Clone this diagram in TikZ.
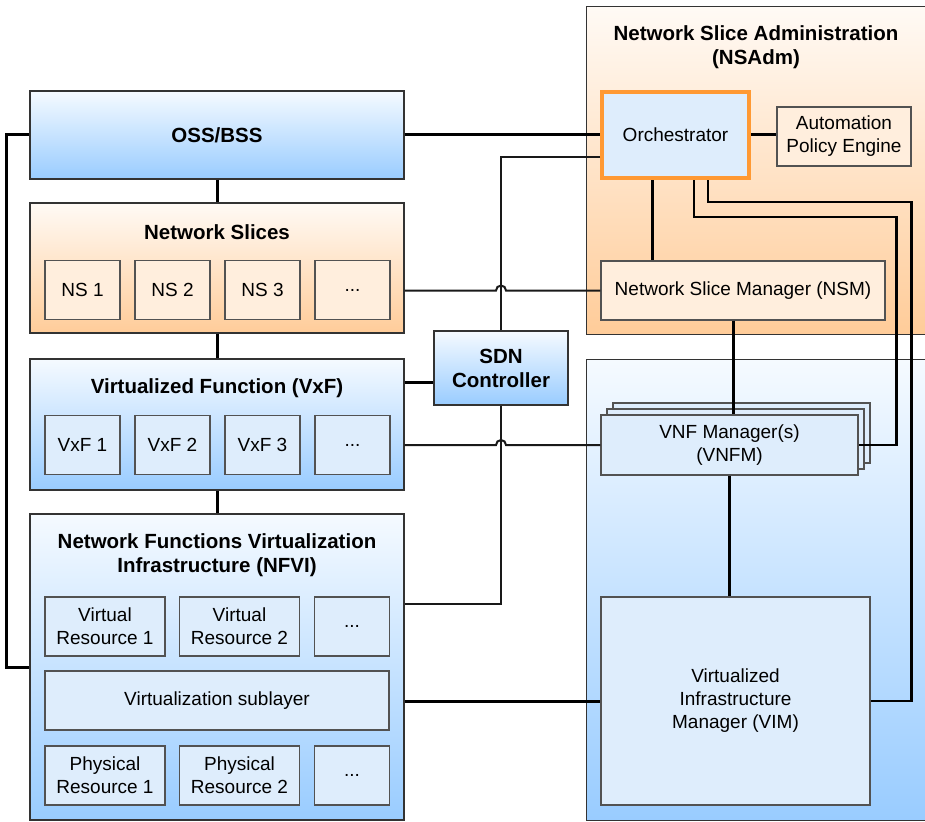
\documentclass[tikz,border=0pt]{standalone}
\usepackage{fontspec}
\setmainfont{Liberation Sans}

\definecolor{bluetop}{HTML}{F5FAFF}
\definecolor{bluebot}{HTML}{99CCFF}
\definecolor{orgtop}{HTML}{FFFAF5}
\definecolor{orgbot}{HTML}{FFCC99}
\definecolor{boxblue}{HTML}{DEEDFC}
\definecolor{boxorg}{HTML}{FFEEDD}
\definecolor{orchline}{HTML}{FF9933}
\definecolor{edge}{HTML}{333333}
\newcommand{\moredots}{...}

\begin{document}
\begin{tikzpicture}[x=1pt,y=1pt,
  every node/.style={font=\fontsize{19}{23}\selectfont,align=center,inner sep=0pt},
  layerbox/.style={draw=edge,line width=1.4pt,top color=bluetop,bottom color=bluebot,minimum width=374},
  slicebox/.style={layerbox,top color=orgtop,bottom color=orgbot},
  itembox/.style={draw=edge!85,line width=1.2pt,fill=boxblue,minimum height=59},
  sliceitem/.style={itembox,fill=boxorg},
  heading/.style={font=\fontsize{20.5}{24}\selectfont\bfseries},
  bigwire/.style={line width=3pt},
  midwire/.style={line width=2.5pt},
  wire/.style={line width=2pt,draw=black!90}]

        \useasboundingbox (0,0) rectangle (925,-821);
        \clip (0,0) rectangle (925,-821);

        % right hand areas
        \node[slicebox,anchor=north west,minimum width=350,minimum height=328] (nsadm) at (586,-6) {};
        \node[heading] (nsadmtitle) at (756,-47) {Network Slice Administration\\(NSAdm)};
        \node[layerbox,anchor=north west,minimum width=350,minimum height=461] (vnfarea) at (586,-359) {};

        % left hand layers
        \node[layerbox,minimum height=88] (oss) at (217,-135) {};
        \node[heading] (osstitle) at (217,-135) {OSS/BSS};

        \node[slicebox,minimum height=130] (slices) at (217,-268) {};
        \node[heading] (slicestitle) at (217,-232) {Network Slices};
        \foreach \i/\x/\t in {1/82.5/NS 1,2/172.5/NS 2,3/262.5/NS 3,4/352.5/\moredots}
            \node[sliceitem,minimum width=75] (ns\i) at (\x,-290) {\t};

        \node[layerbox,minimum height=131] (vxf) at (217,-424.5) {};
        \node[heading] (vxftitle) at (217,-388) {Virtualized Function (VxF)};
        \foreach \i/\x/\t in {1/82.5/VxF 1,2/172.5/VxF 2,3/262.5/VxF 3,4/352.5/\moredots}
            \node[itembox,minimum width=75] (vxf\i) at (\x,-445) {\t};

        \node[layerbox,minimum height=306] (nfvi) at (217,-667) {};
        \node[heading] (nfvititle) at (217,-555) {Network Functions Virtualization\\Infrastructure (NFVI)};
        \node[itembox,minimum width=120] (vr1) at (105,-626.5) {Virtual\\Resource 1};
        \node[itembox,minimum width=120] (vr2) at (239.5,-626.5) {Virtual\\Resource 2};
        \node[itembox,minimum width=75] (vr3) at (352,-626.5) {\moredots};
        \node[itembox,minimum width=344] (vsub) at (217,-700.5) {Virtualization sublayer};
        \node[itembox,minimum width=120] (pr1) at (105,-775.5) {Physical\\Resource 1};
        \node[itembox,minimum width=120] (pr2) at (239.5,-775.5) {Physical\\Resource 2};
        \node[itembox,minimum width=75] (pr3) at (352,-775.5) {\moredots};

        % controller
        \node[layerbox,minimum width=134,minimum height=74,font=\fontsize{20.5}{24}\selectfont\bfseries] (sdn) at (501,-368) {SDN\\Controller};

        % administration
        \node[itembox,draw=orchline,line width=4pt,minimum width=147,minimum height=86] (orch) at (675.5,-135) {Orchestrator};
        \node[sliceitem,minimum width=134] (ape) at (844,-136.5) {Automation\\Policy Engine};
        \node[sliceitem,minimum width=284] (nsm) at (743,-290.5) {Network Slice Manager (NSM)};

        % managers
        \node[itembox,minimum width=257,minimum height=60] (vnfmb) at (741.5,-433) {};
        \node[itembox,minimum width=257,minimum height=60] (vnfma) at (735.5,-439) {};
        \node[itembox,minimum width=257,minimum height=60] (vnfm) at (729.5,-445) {VNF Manager(s)\\(VNFM)};
        \node[itembox,minimum width=269,minimum height=208] (vim) at (735.5,-701) {Virtualized\\Infrastructure\\Manager (VIM)};

        \coordinate (sdnin) at ([yshift=-14]sdn.west);
        \coordinate (sdnout) at ([yshift=63]nfvi.east);
        \coordinate (vnfmr) at ([xshift=38]vnfm.east);
        \coordinate (vimr) at ([xshift=41]vim.east);

        \draw[bigwire] (oss.east) -- (orch.west);
        \draw[bigwire] (oss.south) -- (slices.north);
        \draw[bigwire] (slices.south) -- (vxf.north);
        \draw[bigwire] (vxf.south) -- (nfvi.north);
        \draw[bigwire] (sdnin -| vxf.east) -- (sdnin);
        \draw[bigwire] (nfvi.east |- vim.west) -- (vim.west);
        \draw[bigwire] (oss.west) -- ++(-23,0) |- (nfvi.west);
        \draw[wire] ([yshift=-22]orch.west) -| (sdn.north);
        \draw[wire] (sdn.south) |- (sdnout);
        \draw[wire] (slices.east |- nsm.west) -- ([xshift=-5]sdn.north |- nsm.west) arc (180:0:5) -- (nsm.west);
        \draw[wire] (vxf.east |- vnfm.west) -- ([xshift=-5]sdn.south |- vnfm.west) arc (180:0:5) -- (vnfm.west);
        \draw[bigwire] (orch.east) -- (orch.east -| ape.west);
        \draw[bigwire] ([xshift=-23.5]orch.south) -- ([xshift=-23.5]orch.south |- nsm.north);
        \draw[midwire] ([xshift=18.5]orch.south) -- ++(0,-37) -| (vnfmr) -- (vnfm.east);
        \draw[midwire] ([xshift=32.5]orch.south) -- ++(0,-22) -| (vimr) -- (vim.east);
        \draw[bigwire] ([xshift=4]vnfm.north |- nsm.south) -- ([xshift=4]vnfm.north);
        \draw[bigwire] (vnfm.south) -- (vnfm.south |- vim.north);
\end{tikzpicture}
\end{document}
